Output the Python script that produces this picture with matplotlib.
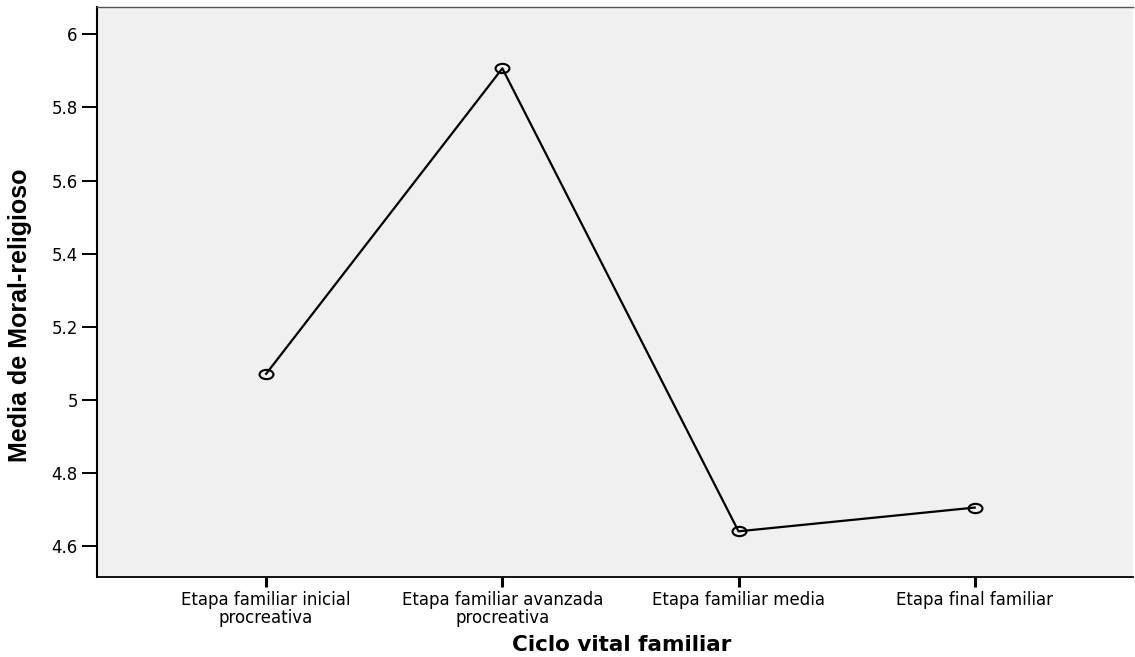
import matplotlib
matplotlib.use("Agg")
import matplotlib.pyplot as plt
from matplotlib import font_manager
from matplotlib.path import Path
from matplotlib.transforms import Affine2D

# Data
categories = ["Etapa familiar inicial\nprocreativa",
              "Etapa familiar avanzada\nprocreativa",
              "Etapa familiar media",
              "Etapa final familiar"]
means = [5.071, 5.907, 4.640, 4.705]
yticks = [4.6, 4.8, 5.0, 5.2, 5.4, 5.6, 5.8, 6.0]
ytick_labels = ["4.6", "4.8", "5", "5.2", "5.4", "5.6", "5.8", "6"]

plt.rcParams['font.family'] = ['DejaVu Sans']

# the y label is in a condensed face in the original
names = {f.name for f in font_manager.fontManager.ttflist}
if 'Liberation Sans Narrow' in names:
    ylab_font, ylab_size = ['Liberation Sans Narrow', 'DejaVu Sans'], 21
else:
    ylab_font, ylab_size = ['Liberation Sans', 'DejaVu Sans'], 18

# slightly flattened open circle, as in the source picture
ellipse = Path.unit_circle().transformed(Affine2D().scale(1.5, 1.0))

fig = plt.figure(figsize=(11.35, 6.57), dpi=100)
ax = fig.add_axes([97 / 1135, 1 - 577 / 657, (1133 - 97) / 1135, (577 - 7) / 657])
ax.set_facecolor("#f0f0f0")

x = list(range(len(categories)))
ax.plot(x, means, color="black", linewidth=1.6, marker=ellipse, markersize=10,
        markerfacecolor="none", markeredgecolor="black", markeredgewidth=1.5)

ax.set_xlim(-0.716, 3.67)
ax.set_ylim(4.515, 6.075)
ax.set_xticks(x)
ax.set_xticklabels(categories, fontsize=12, linespacing=1.0)
ax.set_yticks(yticks)
ax.set_yticklabels(ytick_labels, fontsize=12)
ax.tick_params(axis="x", direction="out", length=7.2, width=2.2, pad=3)
ax.tick_params(axis="y", direction="out", length=10.8, width=1.4, pad=3)

ax.spines["left"].set_linewidth(1.5)
ax.spines["bottom"].set_linewidth(1.3)
ax.spines["top"].set_linewidth(1.0)
ax.spines["top"].set_color("#555555")
ax.spines["right"].set_visible(False)

ax.set_xlabel("Ciclo vital familiar", fontsize=15.5, fontweight="bold")
ax.xaxis.label.set_va("center")
ax.xaxis.set_label_coords(0.506, -0.12)

ax.set_ylabel("Media de Moral-religioso", fontsize=ylab_size, fontweight="bold",
              family=ylab_font)
ax.yaxis.label.set_va("center")
ax.yaxis.set_label_coords(-0.074, 0.46)

fig.savefig("out.png", dpi=100)
